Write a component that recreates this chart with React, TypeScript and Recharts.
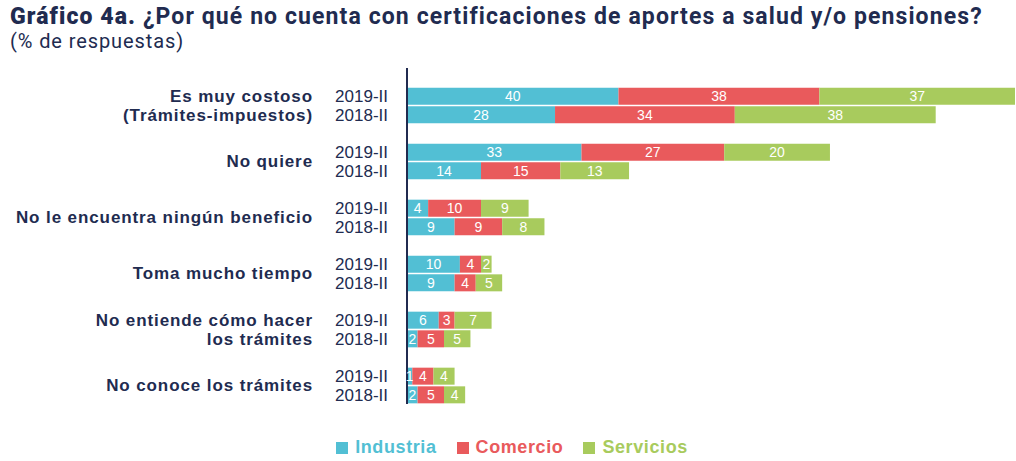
import { BarChart, Bar, XAxis, YAxis, LabelList } from 'recharts';

const categories = [
  'Es muy costoso\n(Trámites-impuestos)',
  'No quiere',
  'No le encuentra ningún beneficio',
  'Toma mucho tiempo',
  'No entiende cómo hacer\nlos trámites',
  'No conoce los trámites',
];
const years = ['2019-II', '2018-II'];

const industria2019 = [40, 33, 4, 10, 6, 1];
const comercio2019 = [38, 27, 10, 4, 3, 4];
const servicios2019 = [37, 20, 9, 2, 7, 4];
const industria2018 = [28, 14, 9, 9, 2, 2];
const comercio2018 = [34, 15, 9, 4, 5, 5];
const servicios2018 = [38, 13, 8, 5, 5, 4];

const NAVY = '#212b50';
const series = [
  { key: 'industria', name: 'Industria', color: '#52bfd4' },
  { key: 'comercio', name: 'Comercio', color: '#e95a5c' },
  { key: 'servicios', name: 'Servicios', color: '#a8cb5d' },
];

type Row = {
  key: string;
  group: number;
  year: string | null;
  industria?: number;
  comercio?: number;
  servicios?: number;
};

// one spacer row before each pair of years gives the gap between groups
const rows: Row[] = [];
categories.forEach((_, g) => {
  rows.push({ key: `s${g}`, group: g, year: null });
  rows.push({
    key: `a${g}`, group: g, year: years[0],
    industria: industria2019[g], comercio: comercio2019[g], servicios: servicios2019[g],
  });
  rows.push({
    key: `b${g}`, group: g, year: years[1],
    industria: industria2018[g], comercio: comercio2018[g], servicios: servicios2018[g],
  });
});

const BAND = (402 - 66) / rows.length;
const FONT = 'Liberation Sans, Arial, sans-serif';

function Tick(props: any) {
  const { y, payload } = props;
  const row = rows.find((r) => r.key === payload.value);
  if (!row || !row.year) return null;
  const yearText = (
    <text x={388} y={y} dy={6} textAnchor="end" fill={NAVY} fontSize={17} fontFamily={FONT}>
      {row.year}
    </text>
  );
  if (row.year !== years[0]) return <g>{yearText}</g>;
  const lines = categories[row.group].split('\n');
  const cy = y + BAND / 2;
  const lh = 19;
  const start = cy - ((lines.length - 1) * lh) / 2;
  return (
    <g>
      {yearText}
      {lines.map((l, i) => (
        <text key={i} x={313} y={start + i * lh} dy={6} textAnchor="end" fill={NAVY}
          fontSize={17} fontWeight="bold" fontFamily={FONT} letterSpacing={0.9}>
          {l}
        </text>
      ))}
    </g>
  );
}

export default function App() {
  return (
    <div style={{ position: 'absolute', left: 0, top: 0, width: 1016, height: 461, background: '#fff' }}>
      <div style={{ position: 'absolute', left: 10, top: 3, color: NAVY, fontFamily: 'Roboto, sans-serif', fontSize: 23, whiteSpace: 'nowrap', letterSpacing: 1.1 }}>
        <span style={{ fontWeight: 900 }}>Gráfico 4a.</span>{' '}
        <span style={{ fontWeight: 700 }}>¿Por qué no cuenta con certificaciones de aportes a salud y/o pensiones?</span>
      </div>
      <div style={{ position: 'absolute', left: 10, top: 29, color: NAVY, fontFamily: 'Roboto, sans-serif', fontSize: 20, letterSpacing: 0.9 }}>
        (% de respuestas)
      </div>
      <div style={{ position: 'absolute', left: 0, top: 0 }}>
        <BarChart width={1016} height={461} data={rows} layout="vertical"
          margin={{ top: 68, right: 1, bottom: 57, left: 0 }} barCategoryGap={2}>
          <XAxis type="number" domain={[0, 115]} hide />
          <YAxis type="category" dataKey="key" width={407} tickLine={false}
            axisLine={{ stroke: NAVY, strokeWidth: 2 }} tick={<Tick />} interval={0} />
          {series.map((s) => (
            <Bar key={s.key} dataKey={s.key} stackId="a" fill={s.color} barSize={17}
              isAnimationActive={false}>
              <LabelList dataKey={s.key} position="center" fill="#fff" fontSize={14}
                fontFamily={FONT} />
            </Bar>
          ))}
        </BarChart>
      </div>
      <div style={{ position: 'absolute', left: 4, top: 437, width: 1016, display: 'flex', justifyContent: 'center', gap: 20, fontFamily: FONT, fontWeight: 'bold', fontSize: 18, letterSpacing: 0.6 }}>
        {series.map((s) => (
          <div key={s.key} style={{ display: 'flex', alignItems: 'center', gap: 7, color: s.color }}>
            <span style={{ width: 12, height: 12, background: s.color, display: 'inline-block' }} />
            {s.name}
          </div>
        ))}
      </div>
    </div>
  );
}
